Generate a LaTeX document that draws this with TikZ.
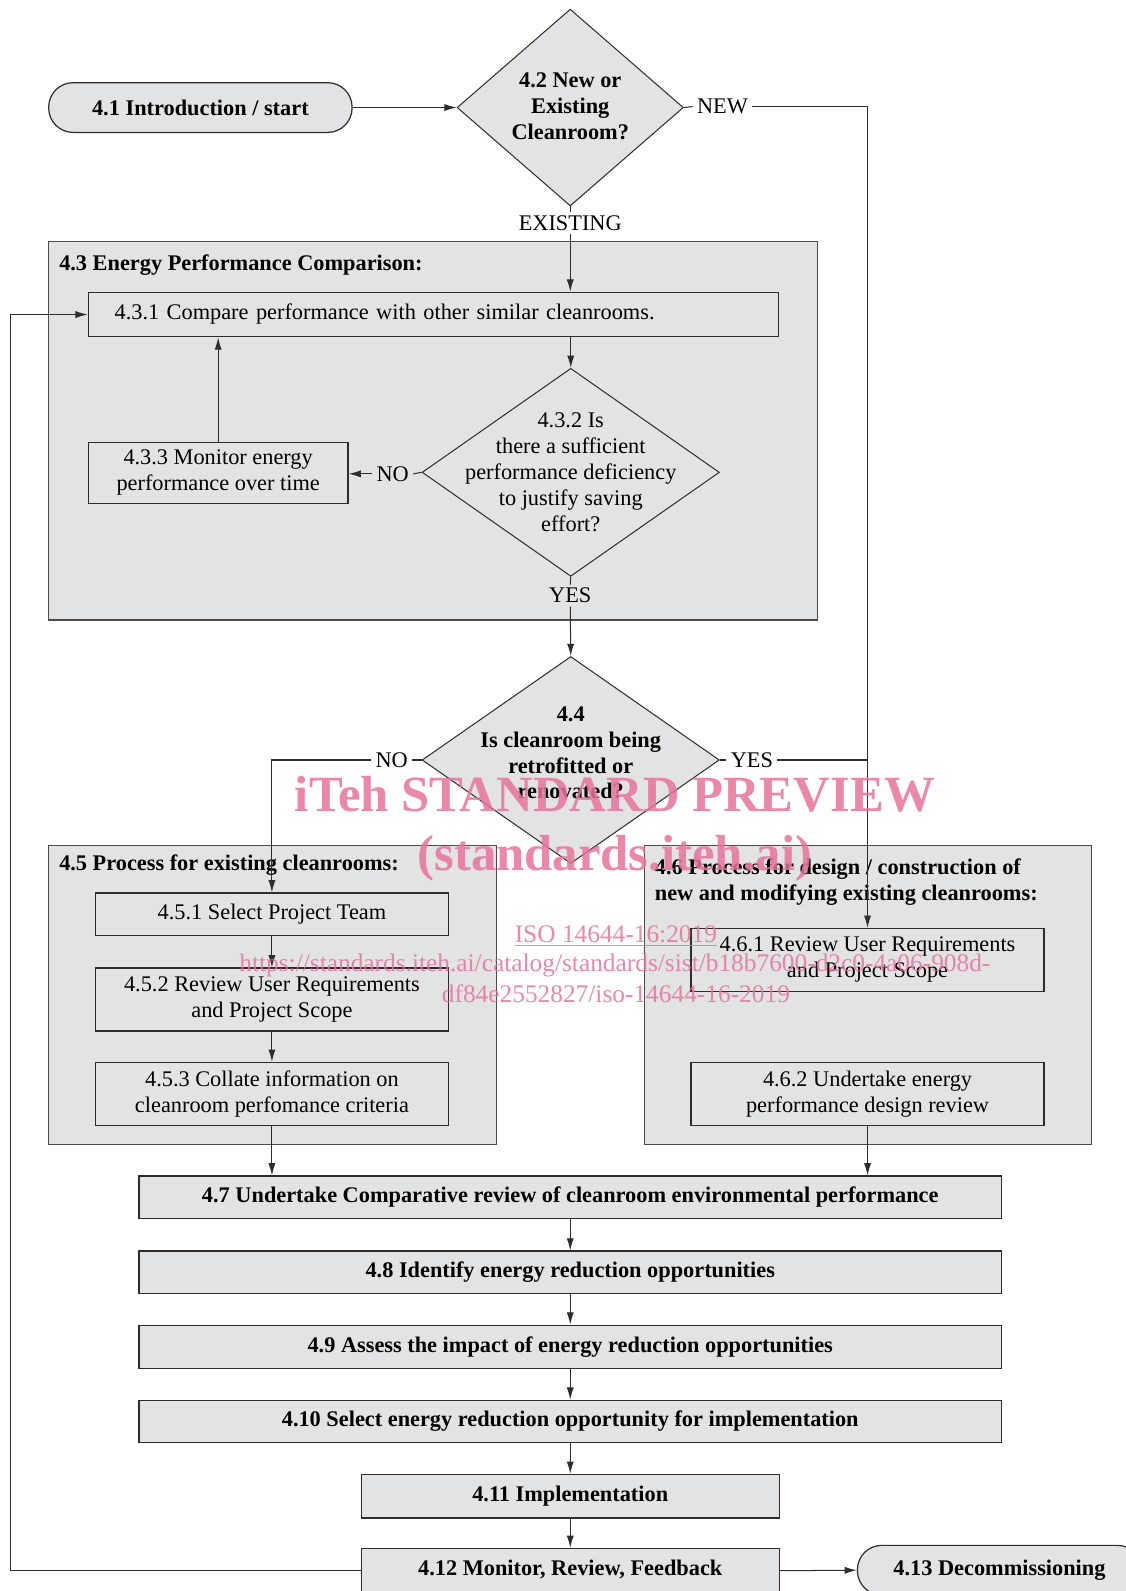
\documentclass[tikz,border=0pt]{standalone}
\usepackage{fontspec}
\setmainfont{Liberation Serif}
\usetikzlibrary{shapes.geometric,arrows.meta,calc}
\definecolor{boxgray}{RGB}{226,227,229}
\definecolor{grpgray}{RGB}{226,227,229}
\definecolor{edge}{RGB}{45,45,45}
\definecolor{wm}{RGB}{232,115,155}
\begin{document}
\begin{tikzpicture}[x=0.5pt,y=-0.5pt,
 every node/.style={font=\fontsize{11}{12.75}\selectfont},
 box/.style={draw=edge,fill=boxgray,line width=0.6pt,inner sep=0pt,align=center},
 grp/.style={draw=edge!85,fill=grpgray,line width=0.6pt,inner sep=0pt},
 dia/.style={diamond,draw=edge,fill=boxgray,line width=0.5pt,inner sep=0pt},
 term/.style={box,rounded corners=12pt},
 lbl/.style={inner xsep=2pt,inner ysep=1.5pt},
 conn/.style={draw=edge,line width=0.5pt},
 arr/.style={conn,-{Latex[length=6pt,width=3.5pt]}},
 bf/.style={font=\fontsize{11}{12.75}\selectfont\bfseries},
 wmark/.style={text=wm,text opacity=0.85,font=\bfseries\fontsize{25}{25}\selectfont,inner sep=0pt,anchor=base},
 wmsmall/.style={wmark,font=\fontsize{12.5}{12.5}\selectfont}]
\useasboundingbox (0,0) rectangle (1109,1568);
\fill[white] (0,0) rectangle (1109,1568);

% groups
\node[grp,minimum width=379pt,minimum height=186.5pt] (g43) at (427,424.5) {};
\node[bf,anchor=west,inner sep=0pt] (t43) at (58,261) {4.3 Energy Performance Comparison:};
\node[grp,minimum width=220.5pt,minimum height=147.5pt] (g45) at (268.5,980.5) {};
\node[bf,anchor=west,inner sep=0pt] (t45) at (58,853) {4.5 Process for existing cleanrooms:};
\node[grp,minimum width=220.5pt,minimum height=147.5pt] (g46) at (855.5,980.5) {};
\node[bf,anchor=west,align=left,inner sep=0pt] (t46) at (645,869) {4.6 Process for design / construction of\\new and modifying existing cleanrooms:};

% start and first decision
\node[term,bf,minimum width=149.5pt,minimum height=24.5pt] (intro) at (197.5,106) {4.1 Introduction / start};
\node[dia,minimum width=111.5pt,minimum height=97pt,
  label={[bf,align=center,yshift=0.5pt]center:4.2 New or\\Existing\\Cleanroom?}] (d42) at (562,106) {};

% 4.3 content
\node[box,text width=314pt,align=left,inner xsep=13pt,minimum height=22pt] (b431) at (427,310) {\strut 4.3.1 Compare performance with other similar cleanrooms.};
\node[dia,minimum width=146.5pt,minimum height=102.5pt,
  label={[align=center]center:4.3.2 Is\\there a sufficient\\performance deficiency\\to justify saving\\effort?}] (d432) at (562.5,465.5) {};
\node[box,minimum width=128pt,minimum height=30pt] (b433) at (215,466) {4.3.3 Monitor energy\\performance over time};

% 4.4 decision
\node[dia,minimum width=146.5pt,minimum height=102pt,
  label={[bf,align=center,yshift=3.5pt]center:4.4\\Is cleanroom being\\retrofitted or\\renovated?}] (d44) at (562.5,749) {};

% 4.5 content
\node[box,minimum width=174pt,minimum height=21pt] (b451) at (268,901) {\strut 4.5.1 Select Project Team};
\node[box,minimum width=174pt,minimum height=31pt] (b452) at (268,985) {4.5.2 Review User Requirements\\and Project Scope};
\node[box,minimum width=174pt,minimum height=31pt] (b453) at (268,1078) {4.5.3 Collate information on\\cleanroom perfomance criteria};

% 4.6 content
\node[box,minimum width=174pt,minimum height=31pt] (b461) at (855,946) {4.6.1 Review User Requirements\\and Project Scope};
\node[box,minimum width=174pt,minimum height=31pt] (b462) at (855,1078) {4.6.2 Undertake energy\\performance design review};

% main sequence
\node[box,bf,minimum width=425pt,minimum height=21pt] (b47) at (562,1180) {\strut 4.7 Undertake Comparative review of cleanroom environmental performance};
\node[box,bf,minimum width=425pt,minimum height=21pt] (b48) at (562,1254) {\strut 4.8 Identify energy reduction opportunities};
\node[box,bf,minimum width=425pt,minimum height=21.5pt] (b49) at (562,1327.5) {\strut 4.9 Assess the impact of energy reduction opportunities};
\node[box,bf,minimum width=425pt,minimum height=21pt] (b410) at (562,1401) {\strut 4.10 Select energy reduction opportunity for implementation};
\node[box,bf,minimum width=206pt,minimum height=21.5pt] (b411) at (562,1474.5) {\strut 4.11 Implementation};
\node[box,bf,minimum width=206pt,minimum height=22pt] (b412) at (562,1548) {\strut 4.12 Monitor, Review, Feedback};
\node[term,bf,minimum width=140pt,minimum height=24.5pt] (b413) at (985,1547.5) {\strut 4.13 Decommissioning};

% connector labels
\node[lbl] (new) at (712,105) {NEW};
\node[lbl] (exist) at (562,220) {EXISTING};
\node[lbl] (no1) at (387,467) {NO};
\node[lbl] (yes1) at (562,587) {YES};
\node[lbl] (no2) at (386,749) {NO};
\node[lbl] (yes2) at (741,749) {YES};
\coordinate (lp) at (10,1548);

% connectors
\draw[arr] (intro.east) -- (d42.west);
\draw[conn] (d42.east) -- (new.west);
\draw[arr] (new.east) -| (b461.north);
\draw[conn] (d42.south) -- (exist.north);
\draw[arr] (exist.south) -- (exist.south |- b431.north);
\draw[arr] (d432.north |- b431.south) -- (d432.north);
\draw[conn] (d432.west) -- (no1.east);
\draw[arr] (no1.west) -- (no1.west -| b433.east);
\draw[arr] (b433.north) -- (b433.north |- b431.south);
\draw[conn] (d432.south) -- (yes1.north);
\draw[arr] (yes1.south) -- (d44.north);
\draw[conn] (d44.west) -- (no2.east);
\draw[arr] (no2.west) -| (b451.north);
\draw[conn] (d44.east) -- (yes2.west);
\draw[conn] (yes2.east) -- (yes2.east -| b461.north);
\draw[arr] (b451.south) -- (b452.north);
\draw[arr] (b452.south) -- (b453.north);
\draw[arr] (b453.south) -- (b453.south |- b47.north);
\draw[arr] (b462.south) -- (b462.south |- b47.north);
\draw[arr] (b47.south) -- (b48.north);
\draw[arr] (b48.south) -- (b49.north);
\draw[arr] (b49.south) -- (b410.north);
\draw[arr] (b410.south) -- (b411.north);
\draw[arr] (b411.south) -- (b412.north);
\draw[arr] (b412.west) -- (b412.west -| lp) |- (b431.west);
\draw[arr] (b412.east) -- (b413.west);

% watermark
\node[wmark] (wm1) at (606,800) {iTeh STANDARD PREVIEW};
\node[wmark] (wm2) at (606,858) {(standards.iteh.ai)};
\node[wmsmall] (wm3) at (607,929) {\underline{ISO 14644-16:2019}};
\node[wmsmall] (wm4) at (606,957) {https://standards.iteh.ai/catalog/standards/sist/b18b7600-d2c0-4a06-908d-};
\node[wmsmall] (wm5) at (607,988) {df84e2552827/iso-14644-16-2019};
\end{tikzpicture}
\end{document}
